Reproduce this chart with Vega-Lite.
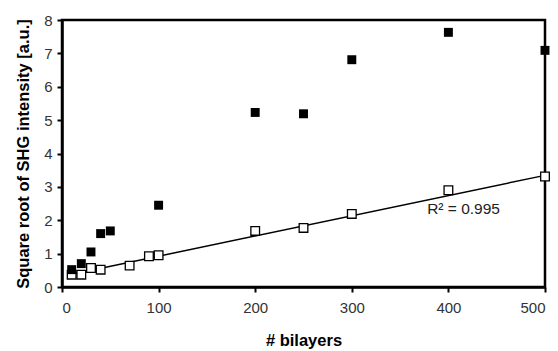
{
  "$schema": "https://vega.github.io/schema/vega-lite/v6.json",
  "width": 483,
  "height": 267,
  "autosize": {"type": "none"},
  "padding": {"left": 62, "top": 20, "right": 13, "bottom": 64},
  "background": "white",
  "config": {
    "font": "Liberation Sans",
    "view": {"stroke": "black", "strokeWidth": 2.5},
    "axis": {
      "domainColor": "black", "domainWidth": 2.5,
      "tickColor": "black", "tickWidth": 2, "tickSize": 5,
      "labelFont": "Liberation Sans", "labelFontSize": 15, "labelColor": "#333333", "labelOverlap": false,
      "titleFont": "Liberation Sans", "titleFontSize": 16.5, "titleFontWeight": "bold", "titleColor": "black",
      "grid": false
    }
  },
  "datasets": {
    "pts": [
      {"n": 10, "v": 0.52, "s": "filled"},
      {"n": 20, "v": 0.70, "s": "filled"},
      {"n": 30, "v": 1.05, "s": "filled"},
      {"n": 40, "v": 1.60, "s": "filled"},
      {"n": 50, "v": 1.68, "s": "filled"},
      {"n": 100, "v": 2.45, "s": "filled"},
      {"n": 200, "v": 5.23, "s": "filled"},
      {"n": 250, "v": 5.19, "s": "filled"},
      {"n": 300, "v": 6.81, "s": "filled"},
      {"n": 400, "v": 7.63, "s": "filled"},
      {"n": 500, "v": 7.09, "s": "filled"},
      {"n": 10, "v": 0.37, "s": "open"},
      {"n": 20, "v": 0.37, "s": "open"},
      {"n": 30, "v": 0.57, "s": "open"},
      {"n": 40, "v": 0.52, "s": "open"},
      {"n": 70, "v": 0.64, "s": "open"},
      {"n": 90, "v": 0.92, "s": "open"},
      {"n": 100, "v": 0.95, "s": "open"},
      {"n": 200, "v": 1.68, "s": "open"},
      {"n": 250, "v": 1.77, "s": "open"},
      {"n": 300, "v": 2.19, "s": "open"},
      {"n": 400, "v": 2.90, "s": "open"},
      {"n": 500, "v": 3.31, "s": "open"}
    ],
    "fit": [
      {"n": 7, "v": 0.36},
      {"n": 500, "v": 3.345}
    ],
    "label": [
      {"n": 378, "v": 2.33, "t": "R² = 0.995"}
    ]
  },
  "encoding": {
    "x": {"field": "n", "type": "quantitative", "scale": {"domain": [0, 500], "nice": false},
      "axis": {"values": [0, 100, 200, 300, 400, 500], "title": "# bilayers", "titlePadding": 17, "labelPadding": 8}},
    "y": {"field": "v", "type": "quantitative", "scale": {"domain": [0, 8], "nice": false},
      "axis": {"values": [0, 1, 2, 3, 4, 5, 6, 7, 8], "title": "Square root of SHG intensity [a.u.]", "titlePadding": 12, "labelPadding": 5}}
  },
  "layer": [
    {
      "data": {"name": "fit"},
      "mark": {"type": "line", "color": "black", "strokeWidth": 1.5}
    },
    {
      "data": {"name": "pts"},
      "transform": [{"filter": "datum.s === 'open'"}],
      "mark": {"type": "square", "size": 75, "filled": true, "fill": "white", "stroke": "black", "strokeWidth": 1.3, "opacity": 1}
    },
    {
      "data": {"name": "pts"},
      "transform": [{"filter": "datum.s === 'filled'"}],
      "mark": {"type": "square", "size": 80, "filled": true, "color": "black", "opacity": 1}
    },
    {
      "data": {"name": "label"},
      "mark": {"type": "text", "align": "left", "baseline": "middle", "fontSize": 15.5, "color": "#222222"},
      "encoding": {
        "text": {"field": "t"}
      }
    }
  ]
}
